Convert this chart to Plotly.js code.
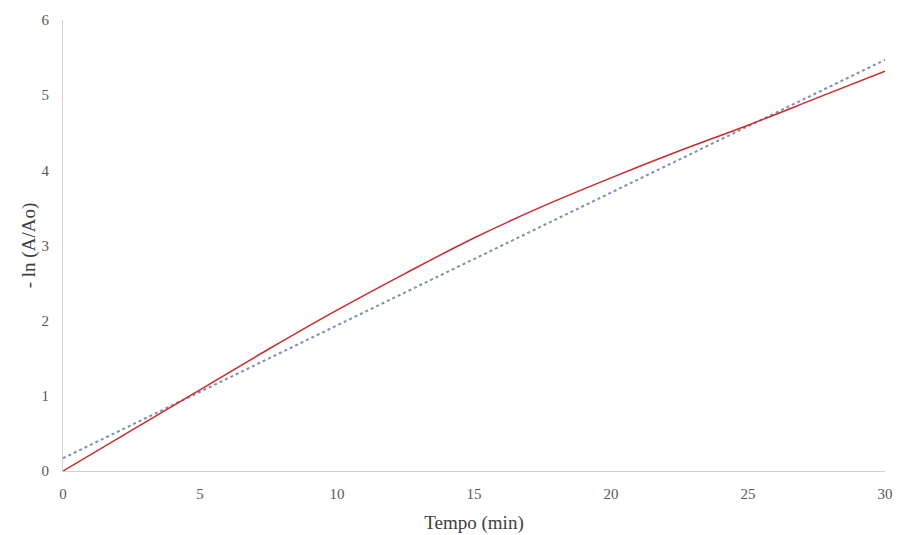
<!DOCTYPE html>
<html>
<head>
<meta charset="utf-8">
<script src="https://cdn.plot.ly/plotly-3.0.1.min.js"></script>
<style>html,body{margin:0;padding:0;background:#fff;}#chart{width:897px;height:535px;}</style>
</head>
<body>
<div id="chart"></div>
<script>
const tempo = [0, 2.5, 5, 7.5, 10, 12.5, 15, 17.5, 20, 22.5, 25, 27.5, 30];
const lnRatio = [0, 0.54, 1.08, 1.62, 2.14, 2.63, 3.1, 3.52, 3.9, 4.26, 4.6, 4.96, 5.32];
const trendX = [0, 30];
const trendY = [0.17, 5.47];
const xTicks = [0, 5, 10, 15, 20, 25, 30];
const yTicks = [0, 1, 2, 3, 4, 5, 6];

const traces = [
  {x: trendX, y: trendY, mode: 'lines', line: {color: '#7d8fb0', width: 2, dash: 'dot'}, showlegend: false, hoverinfo: 'skip'},
  {x: tempo, y: lnRatio, mode: 'lines', line: {color: '#cc2a2a', width: 1.5, shape: 'spline'}, showlegend: false}
];
const font = {family: '"Liberation Serif", "Times New Roman", serif'};
const layout = {
  width: 897, height: 535,
  margin: {l: 63, r: 12, t: 20, b: 64},
  paper_bgcolor: '#fff', plot_bgcolor: '#fff',
  font: font,
  xaxis: {range: [0, 30], tickvals: xTicks, ticktext: xTicks.map(String), showgrid: false, zeroline: false,
    showline: true, linecolor: '#d0d0d0', linewidth: 1, ticks: '', ticklabelstandoff: 9, tickfont: {size: 15, color: '#595959'},
    title: {text: 'Tempo (min)', font: {size: 19, color: '#404040'}, standoff: 14}},
  yaxis: {range: [0, 6], tickvals: yTicks, ticktext: yTicks.map(String), showgrid: false, zeroline: false,
    showline: true, linecolor: '#d0d0d0', linewidth: 1, ticks: '', ticklabelstandoff: 10, tickfont: {size: 15, color: '#595959'},
    title: {text: '- ln (A/Ao)', font: {size: 19, color: '#404040'}, standoff: 0}}
};
Plotly.newPlot('chart', traces, layout, {displayModeBar: false, staticPlot: true});
</script>
</body>
</html>
